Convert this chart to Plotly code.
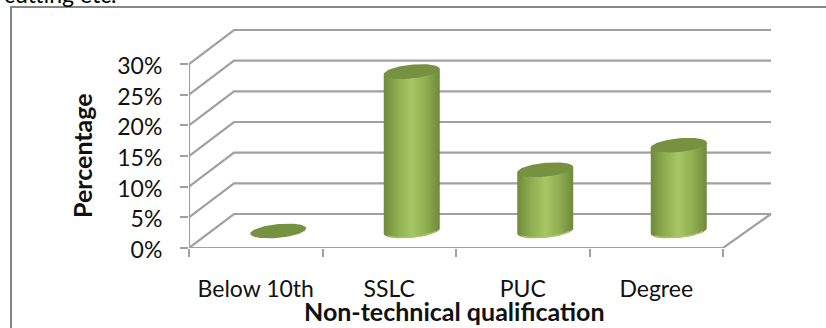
import numpy as np
import plotly.graph_objects as go

categories = ["Below 10th", "SSLC", "PUC", "Degree"]
percentages = [0, 26, 10, 14]
y_ticks = [0, 5, 10, 15, 20, 25, 30]
y_tick_labels = ["0%", "5%", "10%", "15%", "20%", "25%", "30%"]

W, H = 826, 328
LEFT, BOTTOM_PX, TOP_PX, RIGHT_PX = 189, 248, 26, 772
UNIT_X = 133.5         # pixels per category
UNIT_Y = 6.133         # pixels per percentage point
DEPTH_X = 45 / UNIT_X  # floor depth in category units
DEPTH_Y = 34 / UNIT_Y  # floor depth in percentage units
WALL_END = 4 + 48 / UNIT_X
GRID = "#a0a0a0"
FONT = "Lato"

x_max = (RIGHT_PX - LEFT) / UNIT_X
y_max = (BOTTOM_PX - TOP_PX) / UNIT_Y
n = len(categories)

fig = go.Figure()


def line(xs, ys, color=GRID, width=2.2):
    fig.add_trace(go.Scatter(x=xs, y=ys, mode="lines", hoverinfo="skip",
                             line=dict(color=color, width=width), showlegend=False))


# wall gridlines and their returns to the front plane
for v in y_ticks:
    line([0, DEPTH_X, WALL_END], [v, v + DEPTH_Y, v + DEPTH_Y])
# front floor edge and side return, plus the vertical axis
line([0, n, WALL_END], [0, 0, DEPTH_Y])
line([0, 0], [0, y_ticks[-1]])

# cylinder geometry in data units
RX = 28 / UNIT_X
RY = 6.9 / UNIT_Y
TILT = 2.6 / UNIT_Y
t = np.linspace(0, 2 * np.pi, 121)


def ellipse(cx, cy):
    return cx + RX * np.cos(t), cy + RY * np.sin(t) + TILT * np.cos(t)


shade = [[0, "#6f8a3b"], [0.25, "#8fae50"], [0.5, "#a6c764"], [0.75, "#8fae50"], [1, "#6f8a3b"]]

for i, value in enumerate(percentages):
    cx = i + 0.5 + DEPTH_X / 2
    base = DEPTH_Y / 2
    top = base + value
    if value > 0:
        s = np.linspace(np.pi, 2 * np.pi, 61)
        bx = cx + RX * np.cos(s)
        by = base - RY * np.abs(np.sin(s)) + TILT * np.cos(s)
        body_x = np.concatenate([bx, [cx + RX, cx - RX, cx - RX]])
        body_y = np.concatenate([by, [top + TILT, top - TILT, base - TILT]])
        fig.add_trace(go.Scatter(
            x=body_x, y=body_y, mode="lines", fill="toself", hoverinfo="skip",
            line=dict(width=0), showlegend=False,
            fillgradient=dict(type="horizontal", colorscale=shade,
                              start=cx - RX, stop=cx + RX)))
        # pale rim along the lower edge of the cylinder
        line(bx[10:-10], by[10:-10] + 0.15, color="#a9c66a", width=1.2)
    ex, ey = ellipse(cx, top)
    fig.add_trace(go.Scatter(x=ex, y=ey, mode="lines", fill="toself", hoverinfo="skip",
                             line=dict(width=0), fillcolor="#76913f", showlegend=False))

plot_w = RIGHT_PX - LEFT
plot_h = BOTTOM_PX - TOP_PX


def paper_x(px):
    return (px - LEFT) / plot_w


def paper_y(py):
    return (BOTTOM_PX - py) / plot_h


fig.update_layout(
    width=W, height=H, paper_bgcolor="white", plot_bgcolor="white",
    margin=dict(l=LEFT, r=W - RIGHT_PX, t=TOP_PX, b=H - BOTTOM_PX, pad=0),
    font=dict(family=FONT, color="#111111", size=23),
    showlegend=False,
    xaxis=dict(
        range=[0, x_max], showgrid=False, zeroline=False, showline=False,
        tickmode="array", tickvals=[i + 0.5 for i in range(n)], ticktext=categories,
        ticks="", ticklabelstandoff=25, tickfont=dict(size=23, family=FONT),
        minor=dict(tickmode="array", tickvals=list(range(n + 1)), ticks="outside",
                   ticklen=8, tickwidth=2, tickcolor=GRID),
    ),
    yaxis=dict(
        range=[0, y_max], showgrid=False, zeroline=False, showline=False,
        tickmode="array", tickvals=y_ticks, ticktext=y_tick_labels,
        ticks="outside", ticklen=8, tickwidth=2, tickcolor=GRID,
        ticklabelstandoff=13, ticklabelshift=2, tickfont=dict(size=23, family=FONT),
    ),
    shapes=[dict(type="rect", xref="paper", yref="paper", layer="below",
                 x0=paper_x(11), x1=paper_x(840), y0=paper_y(345), y1=paper_y(7),
                 line=dict(color="#868686", width=2), fillcolor="rgba(0,0,0,0)")],
    annotations=[
        dict(text="cutting etc.", xref="paper", yref="paper", showarrow=False,
             x=paper_x(2), y=paper_y(10), xanchor="left", yanchor="bottom",
             font=dict(size=23, family=FONT, color="#000000")),
        dict(text="<b>Percentage</b>", xref="paper", yref="paper", showarrow=False,
             x=paper_x(82), y=paper_y(156), textangle=-90, xanchor="center", yanchor="middle",
             font=dict(size=25, family=FONT)),
        dict(text="<b>Non-technical qualification</b>", xref="paper", yref="paper",
             showarrow=False, x=paper_x(454), y=paper_y(311), xanchor="center", yanchor="middle",
             font=dict(size=25, family=FONT)),
    ],
)

fig.write_html("out.html", config=dict(displayModeBar=False))
